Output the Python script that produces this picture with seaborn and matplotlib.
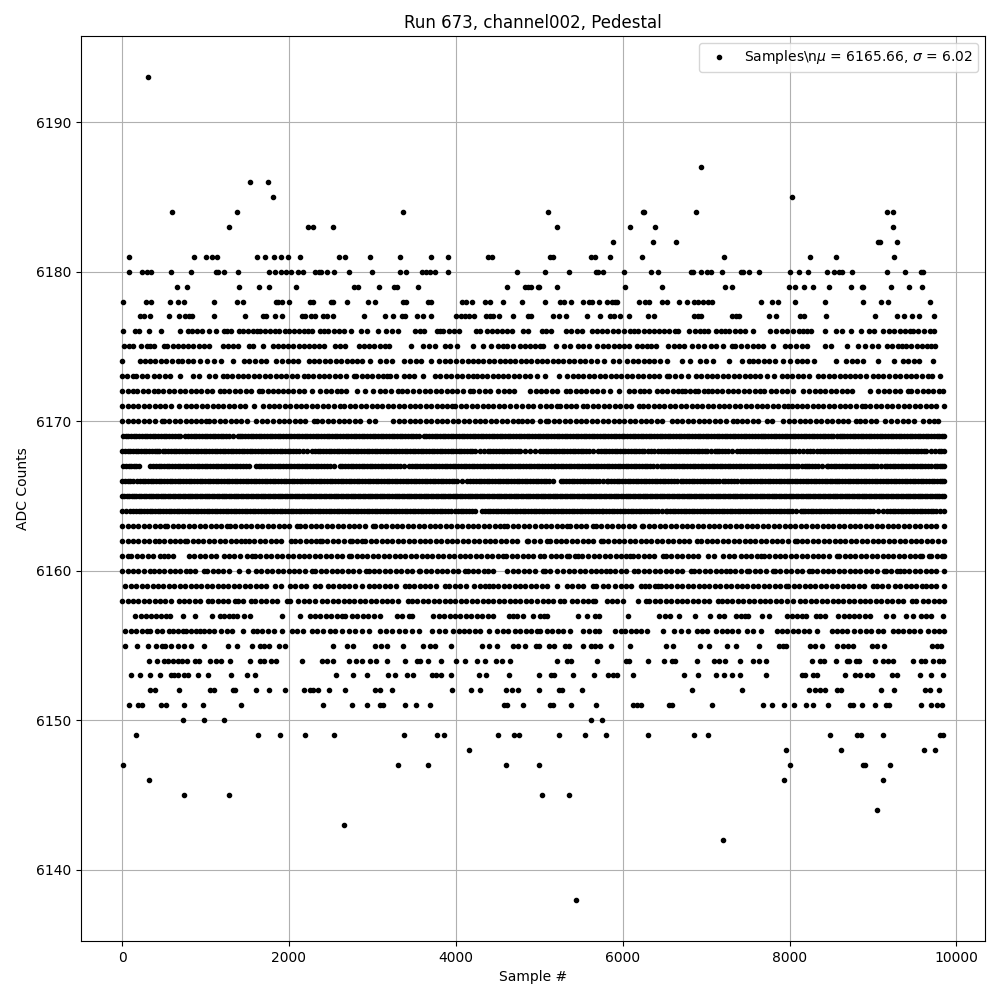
import pandas as pd
import matplotlib
matplotlib.use('Agg')
import matplotlib.pyplot as plt
import seaborn as sns

# sample numbers, one list per ADC level
s6193 = [308]
s6187 = [6942]
s6186 = [1530, 1745]
s6185 = [1805, 8032]
s6184 = [595, 1373, 3361, 5110, 6240, 6260, 6882, 9170, 9242]
s6183 = [1277, 2224, 2287, 2527, 5218, 6092, 6391, 9242]
s6182 = [5888, 6367, 6642, 9062, 9082, 9290]
s6181 = [80, 858, 1002, 1074, 1134, 1613, 1709, 1816, 1900, 1984, 2128, 2603, 2667, 2966, 3325, 3708, 3912, 4391, 4431, 5130, 5162, 5620, 5672, 5852, 6235, 7217, 8247, 8559, 9254]
s6180 = [80, 235, 299, 347, 583, 822, 1122, 1154, 1222, 1385, 1756, 1828, 1900, 1960, 2020, 2104, 2164, 2307, 2355, 2383, 2455, 2535, 2715, 2990, 3325, 3397, 3589, 3637, 3685, 3745, 3912, 4739, 5074, 5361, 5685, 5710, 5768, 6020, 6343, 6427, 6814, 6846, 6938, 7010, 7054, 7194, 7421, 7445, 7517, 7637, 8008, 8112, 8224, 8451, 8535, 8595, 8623, 8750, 9170, 9389, 9581, 9605]
s6179 = [655, 778, 1397, 1637, 1756, 2080, 2775, 2823, 3074, 3254, 3290, 3541, 4619, 4835, 4871, 4907, 4990, 5000, 5218, 6032, 6475, 7229, 7313, 7996, 8068, 8172, 8283, 8475, 8739, 8870, 8882, 9218, 9433, 9589]
s6178 = [8, 283, 343, 571, 667, 739, 1098, 1373, 1445, 1840, 1864, 1916, 1996, 2247, 2283, 2499, 2527, 2691, 2942, 3026, 3361, 3397, 3661, 3708, 4080, 4116, 4188, 4355, 4415, 4571, 4799, 5074, 5254, 5302, 5385, 5529, 5601, 5637, 5721, 5816, 5876, 5908, 5936, 6196, 6271, 6319, 6475, 6535, 6679, 6775, 6858, 6906, 6966, 7026, 7074, 7660, 7792, 7864, 8068, 8427, 8882, 9098, 9182, 9688]
s6177 = [220, 268, 340, 559, 679, 759, 800, 838, 1098, 1469, 1685, 1729, 1828, 1912, 2156, 2190, 2263, 2307, 2403, 2455, 2523, 2894, 3146, 3242, 3353, 3393, 3529, 3601, 3708, 4000, 4060, 4110, 4152, 4212, 4363, 4410, 4451, 4523, 4691, 4871, 4900, 5170, 5242, 5326, 5577, 5733, 5852, 5900, 5968, 6080, 6307, 6379, 6858, 6906, 6942, 7313, 7357, 7397, 7757, 7840, 8128, 8176, 8439, 9026, 9290, 9373, 9469, 9553, 9733]
s6176 = [8, 152, 200, 327, 463, 691, 786, 840, 900, 958, 1038, 1122, 1218, 1262, 1306, 1397, 1455, 1510, 1570, 1620, 1657, 1717, 1775, 1830, 1885, 1950, 2005, 2060, 2120, 2175, 2230, 2275, 2375, 2420, 2463, 2535, 2600, 2655, 2747, 2862, 2934, 3062, 3166, 3234, 3301, 3513, 3565, 3621, 3772, 3810, 3852, 3920, 3982, 4044, 4244, 4292, 4371, 4430, 4490, 4555, 4615, 4671, 4811, 4871, 5038, 5080, 5138, 5321, 5385, 5450, 5511, 5629, 5690, 5750, 5815, 5880, 5945, 6010, 6088, 6130, 6188, 6250, 6315, 6375, 6439, 6500, 6560, 6625, 6667, 6798, 6866, 6925, 6980, 7026, 7118, 7175, 7225, 7277, 7345, 7410, 7470, 7557, 7764, 7836, 7912, 7972, 8045, 8116, 8164, 8210, 8252, 8427, 8559, 8623, 8739, 8858, 8954, 9010, 9122, 9194, 9255, 9320, 9385, 9440, 9481, 9541, 9610, 9680, 9733]
s6175 = [28, 85, 128, 228, 299, 340, 379, 499, 539, 611, 670, 735, 790, 855, 920, 980, 1038, 1210, 1270, 1330, 1385, 1517, 1569, 1685, 1808, 1865, 1925, 1990, 2050, 2115, 2180, 2240, 2300, 2365, 2415, 2555, 2615, 2675, 2834, 2895, 2960, 3025, 3090, 3150, 3205, 3461, 3605, 3675, 3745, 3872, 3932, 4012, 4204, 4324, 4423, 4511, 4565, 4611, 4691, 4770, 4831, 4890, 4950, 5010, 5042, 5202, 5297, 5369, 5469, 5530, 5597, 5689, 5760, 5825, 5890, 5950, 6015, 6080, 6168, 6230, 6290, 6345, 6399, 6547, 6610, 6675, 6740, 6827, 6906, 6974, 7058, 7118, 7205, 7305, 7345, 7413, 7485, 7557, 7620, 7677, 7804, 7944, 8010, 8075, 8145, 8211, 8427, 8499, 8691, 8822, 8902, 8985, 9062, 9162, 9230, 9295, 9350, 9401, 9461, 9525, 9590, 9650, 9700, 9741]
s6174 = [4, 220, 280, 340, 400, 465, 530, 600, 668, 720, 785, 850, 932, 1020, 1105, 1188, 1324, 1460, 1525, 1590, 1660, 1728, 1840, 1920, 1985, 2050, 2108, 2240, 2305, 2365, 2430, 2495, 2560, 2625, 2690, 2750, 2815, 2880, 2972, 3092, 3160, 3240, 3380, 3450, 3520, 3588, 3700, 3800, 3865, 3930, 4000, 4080, 4140, 4200, 4265, 4330, 4395, 4460, 4525, 4585, 4650, 4715, 4780, 4845, 4905, 4968, 5030, 5095, 5160, 5225, 5290, 5355, 5420, 5485, 5550, 5615, 5688, 5776, 5880, 5960, 6056, 6120, 6185, 6250, 6315, 6380, 6450, 6528, 6708, 6808, 6928, 7000, 7080, 7276, 7428, 7508, 7560, 7625, 7690, 7755, 7820, 7920, 8008, 8088, 8150, 8208, 8296, 8552, 8680, 8745, 8810, 8880, 9056, 9248, 9360, 9425, 9490, 9548, 9720]
s6173 = [0, 60, 128, 168, 235, 300, 379, 445, 510, 579, 691, 850, 918, 1038, 1118, 1210, 1257, 1320, 1385, 1450, 1515, 1580, 1645, 1710, 1775, 1840, 1905, 1970, 2035, 2100, 2176, 2224, 2290, 2355, 2420, 2485, 2550, 2615, 2680, 2775, 2806, 2870, 2935, 3000, 3065, 3130, 3174, 3214, 3280, 3373, 3433, 3500, 3605, 3752, 3815, 3880, 3945, 4010, 4075, 4140, 4200, 4252, 4312, 4378, 4440, 4505, 4571, 4631, 4695, 4760, 4825, 4890, 4970, 5068, 5240, 5337, 5400, 5465, 5530, 5595, 5660, 5725, 5790, 5855, 5920, 5985, 6050, 6115, 6180, 6245, 6310, 6375, 6440, 6527, 6559, 6625, 6700, 6787, 6875, 6940, 7005, 7070, 7135, 7200, 7265, 7330, 7395, 7460, 7525, 7585, 7645, 7725, 7817, 7904, 7970, 8035, 8100, 8165, 8230, 8343, 8403, 8470, 8535, 8600, 8665, 8730, 8790, 8843, 8914, 9002, 9060, 9122, 9194, 9260, 9325, 9390, 9455, 9520, 9590, 9660, 9708, 9800]
s6172 = [0, 65, 128, 180, 245, 310, 380, 428, 495, 560, 625, 690, 755, 820, 885, 950, 1015, 1080, 1178, 1218, 1285, 1350, 1415, 1480, 1545, 1637, 1677, 1745, 1810, 1870, 1928, 1984, 2050, 2124, 2184, 2275, 2375, 2440, 2505, 2570, 2623, 2687, 2815, 2915, 3006, 3086, 3155, 3220, 3305, 3353, 3420, 3490, 3553, 3625, 3692, 3760, 3825, 3890, 3955, 4020, 4090, 4164, 4204, 4275, 4344, 4411, 4511, 4575, 4640, 4703, 4890, 4955, 5020, 5085, 5150, 5215, 5321, 5369, 5435, 5500, 5565, 5630, 5695, 5760, 5848, 5960, 6076, 6140, 6205, 6256, 6319, 6407, 6470, 6535, 6600, 6660, 6707, 6746, 6810, 6866, 6906, 6970, 7018, 7066, 7130, 7195, 7260, 7325, 7385, 7450, 7515, 7580, 7640, 7693, 7772, 7840, 7905, 7970, 8044, 8164, 8236, 8300, 8365, 8430, 8495, 8560, 8625, 8690, 8754, 8970, 9062, 9130, 9195, 9260, 9325, 9421, 9461, 9530, 9595, 9660, 9725, 9790, 9840]
s6171 = [0, 65, 130, 195, 260, 325, 390, 455, 520, 585, 680, 760, 825, 890, 955, 1020, 1085, 1150, 1215, 1280, 1345, 1410, 1475, 1585, 1689, 1755, 1820, 1885, 1950, 2015, 2080, 2145, 2210, 2275, 2340, 2405, 2470, 2535, 2607, 2663, 2730, 2795, 2860, 2925, 2990, 3055, 3120, 3185, 3250, 3315, 3380, 3445, 3510, 3575, 3640, 3705, 3770, 3835, 3900, 3952, 3992, 4060, 4125, 4190, 4255, 4320, 4385, 4450, 4515, 4580, 4651, 4723, 4791, 4860, 4925, 5010, 5075, 5140, 5208, 5248, 5315, 5380, 5445, 5521, 5577, 5645, 5710, 5775, 5840, 5905, 5970, 6035, 6100, 6200, 6240, 6305, 6370, 6435, 6500, 6565, 6630, 6695, 6760, 6825, 6890, 6955, 7020, 7085, 7150, 7215, 7280, 7345, 7410, 7475, 7540, 7605, 7670, 7735, 7800, 7865, 7930, 7984, 8024, 8090, 8155, 8204, 8275, 8340, 8405, 8470, 8535, 8600, 8665, 8730, 8795, 8863, 8902, 8970, 9035, 9100, 9165, 9233, 9301, 9369, 9435, 9500, 9565, 9630, 9695, 9760, 9850]
s6170 = [0, 65, 130, 195, 260, 325, 390, 479, 499, 565, 630, 695, 760, 825, 890, 950, 1010, 1038, 1105, 1170, 1235, 1300, 1365, 1430, 1497, 1609, 1675, 1740, 1808, 1876, 1936, 2000, 2070, 2136, 2196, 2295, 2335, 2400, 2465, 2530, 2595, 2660, 2725, 2790, 2855, 2954, 3034, 3253, 3313, 3380, 3445, 3510, 3575, 3640, 3705, 3770, 3835, 3900, 3965, 4030, 4095, 4160, 4225, 4290, 4355, 4420, 4485, 4550, 4615, 4680, 4745, 4791, 4850, 4915, 5010, 5082, 5110, 5175, 5240, 5305, 5370, 5435, 5500, 5565, 5630, 5695, 5760, 5825, 5890, 5955, 6020, 6085, 6150, 6215, 6280, 6345, 6410, 6475, 6587, 6647, 6715, 6780, 6845, 6910, 6975, 7040, 7105, 7170, 7235, 7317, 7365, 7430, 7495, 7560, 7625, 7725, 7784, 7924, 7990, 8055, 8120, 8185, 8250, 8315, 8380, 8445, 8510, 8575, 8640, 8705, 8802, 8842, 8910, 8975, 9040, 9142, 9214, 9290, 9361, 9421, 9490, 9601, 9673, 9730, 9780]
s6169 = [12, 45, 75, 108, 140, 172, 205, 238, 270, 302, 335, 368, 400, 432, 465, 498, 530, 562, 595, 630, 667, 699, 759, 792, 825, 858, 890, 922, 955, 988, 1020, 1052, 1085, 1118, 1150, 1182, 1215, 1248, 1280, 1332, 1385, 1409, 1442, 1475, 1508, 1540, 1572, 1605, 1638, 1670, 1702, 1735, 1768, 1800, 1832, 1865, 1898, 1930, 1962, 1995, 2028, 2060, 2092, 2125, 2158, 2190, 2222, 2255, 2288, 2320, 2352, 2385, 2418, 2450, 2482, 2515, 2548, 2580, 2612, 2645, 2678, 2710, 2742, 2775, 2808, 2840, 2872, 2905, 2938, 2970, 3002, 3035, 3068, 3100, 3132, 3165, 3198, 3230, 3262, 3295, 3328, 3360, 3392, 3425, 3458, 3490, 3522, 3553, 3613, 3646, 3680, 3712, 3745, 3778, 3810, 3842, 3875, 3908, 3940, 3972, 4005, 4038, 4070, 4102, 4135, 4168, 4200, 4232, 4265, 4298, 4330, 4362, 4395, 4428, 4460, 4492, 4525, 4558, 4590, 4622, 4655, 4688, 4720, 4752, 4785, 4818, 4850, 4882, 4915, 4948, 4980, 5012, 5045, 5078, 5110, 5142, 5175, 5208, 5240, 5272, 5305, 5338, 5370, 5402, 5435, 5468, 5500, 5532, 5565, 5598, 5630, 5662, 5695, 5728, 5760, 5792, 5825, 5858, 5890, 5922, 5955, 5988, 6020, 6052, 6085, 6118, 6150, 6182, 6215, 6248, 6280, 6312, 6345, 6378, 6410, 6442, 6475, 6508, 6540, 6572, 6605, 6638, 6670, 6702, 6735, 6768, 6800, 6832, 6865, 6898, 6930, 6962, 6995, 7028, 7060, 7092, 7125, 7158, 7190, 7222, 7255, 7288, 7320, 7352, 7385, 7418, 7450, 7482, 7515, 7548, 7580, 7616, 7653, 7677, 7710, 7745, 7778, 7810, 7842, 7875, 7908, 7940, 7972, 8005, 8038, 8070, 8102, 8135, 8168, 8200, 8232, 8265, 8298, 8330, 8362, 8395, 8428, 8460, 8492, 8525, 8565, 8603, 8623, 8656, 8690, 8722, 8755, 8788, 8820, 8852, 8885, 8918, 8950, 8982, 9015, 9048, 9080, 9112, 9145, 9178, 9210, 9242, 9275, 9308, 9340, 9372, 9405, 9438, 9470, 9502, 9535, 9568, 9600, 9632, 9665, 9698, 9730, 9762, 9795, 9825, 9850]
s6168 = [0, 32, 65, 98, 130, 162, 195, 228, 260, 292, 325, 358, 390, 420, 447, 487, 520, 555, 588, 620, 652, 685, 718, 750, 782, 815, 848, 880, 912, 945, 978, 1010, 1042, 1075, 1108, 1140, 1172, 1205, 1238, 1270, 1302, 1335, 1368, 1400, 1432, 1465, 1498, 1530, 1562, 1595, 1628, 1660, 1692, 1725, 1758, 1790, 1822, 1855, 1888, 1920, 1952, 1985, 2018, 2050, 2082, 2115, 2165, 2216, 2276, 2310, 2345, 2378, 2410, 2442, 2475, 2508, 2540, 2572, 2605, 2638, 2670, 2702, 2735, 2768, 2800, 2832, 2865, 2898, 2930, 2962, 2995, 3028, 3060, 3092, 3125, 3158, 3190, 3222, 3255, 3288, 3320, 3352, 3385, 3418, 3450, 3482, 3515, 3548, 3580, 3612, 3645, 3678, 3710, 3742, 3775, 3808, 3840, 3872, 3905, 3938, 3970, 4002, 4035, 4068, 4100, 4132, 4165, 4198, 4230, 4285, 4340, 4380, 4415, 4450, 4482, 4515, 4548, 4580, 4612, 4645, 4678, 4710, 4742, 4775, 4830, 4890, 4950, 5010, 5042, 5075, 5108, 5140, 5172, 5205, 5238, 5270, 5302, 5335, 5368, 5400, 5432, 5465, 5498, 5530, 5562, 5595, 5650, 5705, 5737, 5770, 5805, 5838, 5870, 5902, 5935, 5968, 6000, 6032, 6065, 6098, 6130, 6162, 6195, 6228, 6260, 6298, 6335, 6379, 6427, 6460, 6495, 6528, 6560, 6592, 6625, 6658, 6690, 6722, 6755, 6788, 6820, 6852, 6885, 6918, 6950, 6982, 7015, 7060, 7106, 7126, 7160, 7195, 7228, 7260, 7312, 7365, 7405, 7440, 7475, 7508, 7540, 7572, 7605, 7638, 7670, 7702, 7735, 7768, 7800, 7832, 7865, 7898, 7930, 7962, 7995, 8028, 8060, 8112, 8164, 8212, 8246, 8280, 8331, 8363, 8395, 8425, 8458, 8491, 8531, 8565, 8600, 8632, 8665, 8698, 8730, 8762, 8795, 8828, 8860, 8892, 8925, 8958, 8990, 9022, 9055, 9088, 9120, 9152, 9185, 9218, 9250, 9282, 9315, 9348, 9380, 9412, 9445, 9478, 9510, 9542, 9575, 9608, 9640, 9690, 9741, 9792, 9820, 9850]
s6167 = [12, 45, 80, 112, 145, 172, 200, 339, 372, 405, 438, 470, 502, 535, 568, 600, 632, 665, 698, 730, 762, 795, 828, 860, 892, 925, 958, 990, 1022, 1055, 1088, 1120, 1152, 1185, 1218, 1250, 1282, 1315, 1348, 1380, 1412, 1445, 1485, 1525, 1605, 1638, 1670, 1702, 1735, 1768, 1800, 1832, 1865, 1898, 1930, 1962, 1995, 2028, 2060, 2092, 2125, 2158, 2190, 2222, 2255, 2288, 2320, 2352, 2385, 2418, 2450, 2492, 2535, 2607, 2640, 2675, 2708, 2740, 2772, 2805, 2838, 2870, 2902, 2935, 2968, 3000, 3032, 3065, 3098, 3130, 3162, 3195, 3228, 3260, 3292, 3325, 3380, 3433, 3473, 3506, 3540, 3572, 3605, 3638, 3670, 3702, 3735, 3768, 3800, 3832, 3865, 3898, 3930, 3962, 3995, 4028, 4060, 4092, 4125, 4158, 4190, 4222, 4255, 4288, 4320, 4352, 4385, 4418, 4450, 4482, 4515, 4548, 4580, 4612, 4645, 4678, 4710, 4742, 4775, 4808, 4840, 4872, 4905, 4938, 4970, 5002, 5035, 5068, 5100, 5138, 5176, 5190, 5222, 5255, 5288, 5320, 5352, 5385, 5418, 5450, 5482, 5515, 5548, 5580, 5612, 5645, 5678, 5710, 5742, 5775, 5808, 5840, 5872, 5905, 5938, 5970, 6002, 6035, 6068, 6100, 6132, 6165, 6198, 6230, 6262, 6295, 6328, 6360, 6408, 6455, 6479, 6512, 6545, 6578, 6610, 6642, 6675, 6708, 6740, 6772, 6805, 6838, 6870, 6902, 6935, 6968, 7000, 7032, 7065, 7098, 7130, 7162, 7195, 7228, 7260, 7292, 7325, 7358, 7390, 7422, 7455, 7488, 7520, 7552, 7585, 7618, 7650, 7682, 7715, 7748, 7780, 7812, 7845, 7878, 7910, 7942, 7975, 8008, 8040, 8072, 8105, 8145, 8184, 8204, 8236, 8270, 8302, 8335, 8390, 8443, 8463, 8496, 8530, 8562, 8595, 8628, 8660, 8692, 8725, 8758, 8790, 8822, 8855, 8888, 8920, 8952, 8985, 9018, 9050, 9098, 9142, 9170, 9202, 9235, 9268, 9300, 9332, 9365, 9398, 9430, 9462, 9495, 9528, 9560, 9592, 9625, 9662, 9701, 9741, 9772, 9805, 9830, 9850]
s6166 = [0, 32, 65, 100, 132, 180, 212, 245, 278, 310, 342, 375, 408, 440, 472, 505, 538, 570, 602, 635, 668, 700, 732, 765, 798, 830, 862, 895, 928, 960, 992, 1025, 1058, 1090, 1122, 1155, 1188, 1220, 1252, 1285, 1318, 1350, 1382, 1415, 1448, 1480, 1512, 1545, 1578, 1610, 1642, 1675, 1708, 1740, 1772, 1805, 1838, 1870, 1902, 1935, 1968, 2000, 2032, 2065, 2098, 2130, 2162, 2195, 2228, 2260, 2292, 2325, 2358, 2390, 2422, 2455, 2488, 2520, 2552, 2585, 2618, 2650, 2682, 2715, 2748, 2780, 2812, 2845, 2878, 2910, 2942, 2975, 3008, 3040, 3072, 3105, 3138, 3170, 3202, 3235, 3268, 3300, 3332, 3365, 3398, 3430, 3462, 3495, 3528, 3560, 3592, 3625, 3658, 3690, 3722, 3755, 3788, 3820, 3852, 3885, 3918, 3950, 3982, 4015, 4072, 4132, 4172, 4205, 4240, 4272, 4305, 4338, 4370, 4402, 4435, 4468, 4500, 4532, 4565, 4598, 4630, 4662, 4695, 4728, 4760, 4792, 4825, 4858, 4890, 4922, 4955, 4988, 5020, 5052, 5085, 5120, 5160, 5257, 5290, 5325, 5358, 5390, 5422, 5455, 5488, 5520, 5552, 5585, 5618, 5650, 5682, 5715, 5760, 5808, 5828, 5862, 5895, 5928, 5960, 5992, 6025, 6058, 6090, 6122, 6155, 6188, 6220, 6252, 6285, 6318, 6350, 6382, 6415, 6448, 6480, 6512, 6545, 6578, 6610, 6650, 6695, 6727, 6760, 6795, 6828, 6860, 6892, 6925, 6958, 6990, 7022, 7055, 7088, 7120, 7158, 7198, 7232, 7265, 7298, 7330, 7370, 7413, 7445, 7478, 7510, 7542, 7575, 7608, 7640, 7672, 7705, 7738, 7770, 7802, 7835, 7868, 7900, 7932, 7965, 7998, 8030, 8062, 8095, 8128, 8160, 8192, 8225, 8258, 8290, 8322, 8355, 8388, 8420, 8450, 8480, 8512, 8543, 8563, 8596, 8630, 8662, 8695, 8728, 8760, 8792, 8825, 8858, 8890, 8922, 8955, 8988, 9020, 9052, 9085, 9118, 9150, 9182, 9215, 9248, 9280, 9312, 9345, 9378, 9410, 9442, 9475, 9508, 9540, 9572, 9605, 9638, 9670, 9702, 9735, 9768, 9800, 9825, 9850]
s6165 = [0, 28, 55, 85, 115, 142, 170, 200, 230, 260, 290, 318, 345, 375, 405, 435, 465, 492, 520, 550, 580, 610, 640, 668, 695, 725, 755, 785, 815, 842, 870, 900, 930, 960, 990, 1018, 1045, 1075, 1105, 1135, 1165, 1192, 1220, 1250, 1280, 1310, 1340, 1368, 1395, 1425, 1455, 1485, 1515, 1542, 1570, 1600, 1630, 1660, 1690, 1718, 1745, 1775, 1805, 1835, 1865, 1892, 1920, 1950, 1980, 2010, 2040, 2068, 2095, 2125, 2155, 2185, 2215, 2242, 2270, 2300, 2330, 2360, 2390, 2418, 2445, 2475, 2505, 2535, 2565, 2592, 2620, 2650, 2680, 2710, 2740, 2768, 2795, 2825, 2855, 2885, 2915, 2942, 2970, 3000, 3030, 3060, 3090, 3118, 3145, 3175, 3205, 3235, 3265, 3292, 3320, 3350, 3380, 3410, 3440, 3468, 3495, 3525, 3555, 3585, 3615, 3642, 3670, 3700, 3730, 3760, 3790, 3818, 3845, 3875, 3905, 3935, 3965, 3992, 4020, 4050, 4080, 4110, 4140, 4168, 4195, 4225, 4255, 4285, 4315, 4342, 4370, 4400, 4430, 4460, 4490, 4518, 4545, 4575, 4605, 4635, 4665, 4692, 4720, 4750, 4780, 4810, 4840, 4868, 4895, 4925, 4955, 4985, 5015, 5042, 5070, 5100, 5130, 5160, 5190, 5218, 5245, 5275, 5305, 5335, 5365, 5392, 5420, 5450, 5480, 5510, 5540, 5568, 5595, 5625, 5655, 5685, 5715, 5742, 5770, 5800, 5830, 5860, 5890, 5918, 5945, 5975, 6005, 6035, 6065, 6092, 6120, 6150, 6180, 6210, 6240, 6268, 6295, 6325, 6355, 6385, 6415, 6442, 6470, 6500, 6530, 6560, 6590, 6618, 6645, 6675, 6705, 6735, 6765, 6792, 6820, 6850, 6880, 6910, 6940, 6968, 6995, 7025, 7055, 7085, 7115, 7142, 7170, 7200, 7230, 7260, 7290, 7318, 7345, 7375, 7405, 7435, 7465, 7492, 7520, 7550, 7580, 7610, 7640, 7668, 7695, 7725, 7755, 7785, 7815, 7842, 7870, 7900, 7930, 7960, 7990, 8018, 8045, 8075, 8105, 8135, 8165, 8192, 8220, 8250, 8280, 8310, 8340, 8368, 8395, 8425, 8455, 8485, 8515, 8542, 8570, 8600, 8630, 8660, 8690, 8718, 8745, 8775, 8805, 8835, 8865, 8892, 8920, 8950, 8980, 9010, 9040, 9068, 9095, 9125, 9155, 9185, 9215, 9242, 9270, 9300, 9330, 9360, 9390, 9418, 9445, 9475, 9505, 9535, 9565, 9592, 9620, 9650, 9680, 9710, 9740, 9768, 9795, 9825, 9850]
s6164 = [0, 45, 92, 132, 165, 200, 232, 265, 298, 330, 362, 395, 428, 460, 492, 525, 558, 590, 622, 655, 688, 720, 752, 785, 818, 850, 882, 915, 948, 980, 1012, 1045, 1078, 1110, 1142, 1175, 1208, 1240, 1272, 1305, 1338, 1370, 1402, 1435, 1468, 1500, 1532, 1565, 1598, 1630, 1662, 1695, 1728, 1760, 1792, 1825, 1858, 1890, 1922, 1955, 1988, 2020, 2052, 2085, 2118, 2150, 2182, 2215, 2248, 2280, 2312, 2345, 2378, 2410, 2442, 2475, 2508, 2540, 2572, 2605, 2638, 2670, 2702, 2735, 2768, 2800, 2832, 2865, 2898, 2930, 2962, 2995, 3028, 3060, 3092, 3125, 3158, 3190, 3222, 3255, 3288, 3320, 3352, 3385, 3418, 3450, 3482, 3515, 3548, 3580, 3612, 3645, 3678, 3710, 3742, 3775, 3808, 3840, 3872, 3905, 3948, 3992, 4024, 4058, 4090, 4122, 4155, 4195, 4232, 4312, 4345, 4380, 4412, 4445, 4478, 4510, 4542, 4575, 4608, 4640, 4672, 4705, 4738, 4770, 4802, 4835, 4868, 4900, 4932, 4965, 4998, 5030, 5062, 5095, 5128, 5160, 5192, 5225, 5258, 5290, 5322, 5355, 5388, 5420, 5452, 5485, 5518, 5550, 5582, 5615, 5648, 5680, 5715, 5749, 5769, 5802, 5835, 5868, 5900, 5932, 5965, 5998, 6030, 6062, 6095, 6128, 6160, 6192, 6225, 6258, 6290, 6322, 6355, 6388, 6420, 6470, 6519, 6535, 6568, 6600, 6632, 6665, 6698, 6730, 6762, 6795, 6828, 6860, 6892, 6925, 6958, 6990, 7022, 7055, 7088, 7120, 7152, 7185, 7218, 7250, 7282, 7315, 7348, 7380, 7412, 7445, 7478, 7510, 7542, 7575, 7608, 7640, 7672, 7705, 7738, 7770, 7802, 7835, 7868, 7900, 7932, 7965, 7998, 8030, 8082, 8132, 8156, 8188, 8220, 8252, 8285, 8318, 8350, 8382, 8415, 8448, 8480, 8512, 8545, 8578, 8610, 8642, 8675, 8708, 8740, 8772, 8805, 8838, 8870, 8902, 8935, 8968, 9000, 9058, 9114, 9170, 9202, 9235, 9268, 9300, 9332, 9365, 9398, 9430, 9462, 9495, 9528, 9560, 9592, 9625, 9658, 9690, 9722, 9755, 9800, 9850]
s6163 = [0, 65, 130, 195, 260, 325, 390, 455, 519, 539, 605, 670, 735, 800, 865, 930, 995, 1060, 1125, 1190, 1257, 1289, 1355, 1420, 1485, 1550, 1615, 1680, 1745, 1810, 1875, 1940, 2005, 2096, 2128, 2195, 2260, 2325, 2390, 2455, 2520, 2585, 2650, 2715, 2780, 2845, 2910, 3006, 3034, 3100, 3165, 3230, 3295, 3360, 3425, 3490, 3555, 3620, 3685, 3750, 3815, 3880, 3945, 4010, 4075, 4140, 4205, 4270, 4335, 4400, 4465, 4530, 4583, 4619, 4685, 4750, 4815, 4880, 4948, 5015, 5080, 5145, 5210, 5275, 5337, 5369, 5435, 5500, 5565, 5649, 5677, 5745, 5810, 5875, 5940, 6005, 6070, 6135, 6228, 6248, 6315, 6380, 6445, 6510, 6575, 6640, 6705, 6770, 6835, 6900, 6965, 7030, 7095, 7160, 7225, 7290, 7355, 7420, 7485, 7550, 7615, 7680, 7745, 7810, 7875, 7940, 8005, 8070, 8135, 8200, 8265, 8330, 8395, 8460, 8525, 8590, 8655, 8720, 8785, 8850, 8915, 8980, 9045, 9110, 9175, 9240, 9305, 9370, 9435, 9500, 9565, 9630, 9695, 9760, 9850]
s6162 = [0, 65, 130, 195, 260, 325, 399, 439, 505, 570, 635, 700, 759, 779, 845, 910, 975, 1040, 1105, 1170, 1235, 1300, 1365, 1430, 1477, 1517, 1585, 1650, 1715, 1780, 1845, 1910, 2024, 2068, 2135, 2200, 2265, 2330, 2375, 2395, 2460, 2525, 2590, 2655, 2735, 2755, 2820, 2874, 2914, 2980, 3045, 3110, 3175, 3240, 3305, 3370, 3435, 3500, 3565, 3630, 3695, 3760, 3825, 3890, 3955, 4020, 4085, 4150, 4215, 4280, 4345, 4410, 4475, 4540, 4605, 4670, 4735, 4850, 4870, 4940, 5010, 5090, 5130, 5195, 5260, 5325, 5390, 5455, 5520, 5585, 5650, 5741, 5761, 5825, 5890, 5955, 6020, 6085, 6150, 6215, 6280, 6345, 6410, 6475, 6540, 6605, 6670, 6735, 6800, 6886, 6938, 7005, 7070, 7135, 7200, 7265, 7330, 7395, 7460, 7525, 7590, 7655, 7720, 7785, 7850, 7915, 7980, 8064, 8084, 8150, 8215, 8280, 8345, 8410, 8475, 8540, 8605, 8670, 8735, 8800, 8865, 8930, 8995, 9060, 9125, 9190, 9255, 9320, 9385, 9450, 9515, 9580, 9645, 9710, 9775, 9850]
s6161 = [0, 68, 108, 175, 240, 305, 370, 459, 499, 555, 611, 798, 865, 930, 995, 1060, 1125, 1218, 1277, 1345, 1410, 1497, 1557, 1597, 1657, 1725, 1790, 1855, 1920, 1985, 2050, 2115, 2180, 2245, 2310, 2375, 2440, 2505, 2570, 2635, 2715, 2743, 2810, 2875, 2940, 3005, 3070, 3135, 3200, 3265, 3330, 3395, 3460, 3525, 3590, 3655, 3720, 3785, 3850, 3915, 3980, 4045, 4110, 4175, 4240, 4305, 4370, 4435, 4500, 4571, 4603, 4670, 4735, 4800, 4865, 4930, 5010, 5062, 5138, 5200, 5265, 5329, 5361, 5425, 5469, 5517, 5589, 5655, 5720, 5785, 5850, 5915, 5980, 6045, 6088, 6120, 6185, 6250, 6315, 6380, 6487, 6519, 6585, 6650, 6715, 6780, 6845, 6906, 7026, 7090, 7198, 7277, 7340, 7413, 7477, 7540, 7605, 7653, 7693, 7755, 7824, 7884, 7950, 8015, 8080, 8145, 8210, 8275, 8340, 8405, 8470, 8563, 8595, 8660, 8725, 8790, 8855, 8920, 8985, 9050, 9115, 9180, 9245, 9310, 9375, 9440, 9505, 9561, 9593, 9673, 9701, 9765, 9830, 9850]
s6160 = [0, 65, 130, 195, 260, 331, 379, 439, 505, 570, 635, 700, 770, 810, 875, 978, 1018, 1085, 1150, 1215, 1277, 1397, 1505, 1605, 1670, 1735, 1800, 1865, 1930, 2004, 2056, 2125, 2190, 2275, 2315, 2380, 2445, 2510, 2575, 2640, 2705, 2770, 2835, 2926, 2954, 3020, 3085, 3150, 3215, 3280, 3345, 3410, 3475, 3553, 3573, 3640, 3705, 3770, 3835, 3900, 3965, 4030, 4112, 4140, 4205, 4270, 4335, 4391, 4443, 4619, 4685, 4750, 4815, 4880, 4945, 5042, 5070, 5130, 5218, 5289, 5355, 5420, 5485, 5550, 5615, 5680, 5745, 5800, 5848, 5908, 5975, 6040, 6136, 6188, 6255, 6320, 6385, 6450, 6515, 6580, 6645, 6710, 6815, 6854, 6920, 6985, 7050, 7115, 7180, 7237, 7285, 7350, 7415, 7485, 7517, 7585, 7650, 7715, 7796, 7824, 7890, 7955, 8020, 8085, 8150, 8235, 8263, 8330, 8395, 8460, 8525, 8590, 8655, 8720, 8785, 8850, 8915, 8980, 9045, 9130, 9154, 9220, 9285, 9329, 9369, 9435, 9500, 9565, 9630, 9695, 9760, 9850]
s6159 = [40, 105, 170, 235, 300, 365, 430, 495, 560, 627, 691, 755, 820, 885, 950, 1015, 1080, 1145, 1210, 1275, 1340, 1405, 1470, 1535, 1600, 1665, 1730, 1836, 1908, 2008, 2075, 2140, 2205, 2315, 2375, 2463, 2527, 2595, 2660, 2725, 2790, 2874, 2954, 3020, 3085, 3150, 3215, 3280, 3393, 3433, 3500, 3565, 3630, 3695, 3760, 3872, 3924, 3990, 4055, 4120, 4212, 4284, 4345, 4403, 4443, 4510, 4575, 4640, 4705, 4770, 4835, 4900, 4965, 5030, 5095, 5210, 5329, 5395, 5460, 5525, 5641, 5677, 5768, 5828, 5908, 5975, 6040, 6105, 6216, 6267, 6319, 6385, 6427, 6455, 6520, 6585, 6650, 6715, 6780, 6845, 6910, 6975, 7040, 7105, 7170, 7235, 7300, 7365, 7430, 7495, 7560, 7625, 7690, 7755, 7820, 7885, 7956, 7984, 8050, 8115, 8180, 8245, 8310, 8375, 8440, 8505, 8570, 8635, 8700, 8765, 8830, 8895, 9002, 9050, 9110, 9182, 9262, 9325, 9390, 9455, 9520, 9585, 9633, 9693, 9760, 9850]
s6158 = [0, 65, 130, 195, 260, 325, 390, 455, 520, 585, 687, 739, 805, 870, 935, 1026, 1078, 1145, 1210, 1275, 1357, 1385, 1450, 1545, 1597, 1665, 1730, 1795, 1860, 1976, 2008, 2104, 2176, 2245, 2310, 2395, 2455, 2523, 2590, 2655, 2720, 2785, 2850, 2915, 2980, 3045, 3110, 3175, 3240, 3305, 3421, 3473, 3540, 3605, 3670, 3735, 3800, 3865, 3930, 3995, 4060, 4125, 4190, 4255, 4320, 4385, 4450, 4515, 4580, 4645, 4710, 4775, 4840, 4905, 4970, 5040, 5105, 5170, 5249, 5301, 5389, 5455, 5520, 5585, 5649, 5669, 5808, 5870, 5936, 6008, 6188, 6276, 6319, 6385, 6450, 6515, 6580, 6645, 6710, 6775, 6840, 6905, 6970, 7035, 7146, 7186, 7250, 7315, 7380, 7445, 7510, 7575, 7640, 7705, 7770, 7835, 7900, 7972, 8044, 8124, 8190, 8255, 8320, 8385, 8450, 8515, 8580, 8645, 8710, 8775, 8840, 8905, 8970, 9035, 9100, 9165, 9230, 9295, 9360, 9473, 9521, 9601, 9665, 9730, 9795, 9850]
s6157 = [152, 228, 290, 350, 410, 470, 530, 579, 731, 870, 1078, 1170, 1225, 1280, 1330, 1377, 1457, 1537, 1916, 2128, 2248, 2310, 2375, 2440, 2505, 2570, 2635, 2675, 2755, 2820, 2885, 2950, 3022, 3086, 3293, 3353, 3433, 3473, 3732, 3795, 3860, 3925, 3990, 4055, 4120, 4185, 4250, 4315, 4391, 4451, 4643, 4690, 4731, 4811, 4930, 5010, 5055, 5098, 5461, 5569, 5669, 5721, 6068, 6439, 6505, 6567, 6679, 6870, 7050, 7154, 7214, 7357, 7420, 7465, 7505, 7673, 7757, 7964, 8030, 8090, 8144, 8199, 8315, 8370, 8423, 8583, 8650, 8710, 8770, 8835, 8900, 8962, 9158, 9242, 9393, 9481, 9581, 9640, 9701, 9840]
s6156 = [40, 105, 170, 235, 299, 339, 419, 479, 559, 611, 675, 731, 767, 826, 885, 938, 978, 1040, 1098, 1186, 1255, 1318, 1449, 1569, 1617, 1677, 1749, 1816, 1920, 2036, 2100, 2164, 2276, 2340, 2405, 2495, 2547, 2635, 2715, 2795, 2874, 2954, 3086, 3160, 3234, 3321, 3393, 3470, 3553, 3712, 3804, 3876, 3972, 4044, 4092, 4160, 4225, 4292, 4403, 4491, 4571, 4631, 4711, 4775, 4840, 4905, 4970, 5010, 5090, 5155, 5220, 5281, 5373, 5529, 5600, 5669, 5721, 5908, 5975, 6028, 6096, 6160, 6225, 6287, 6487, 6615, 6695, 6786, 6886, 6950, 7015, 7118, 7186, 7250, 7315, 7380, 7485, 7565, 7653, 7844, 7910, 7975, 8040, 8105, 8170, 8235, 8323, 8511, 8571, 8630, 8691, 8774, 8850, 8915, 8982, 9062, 9122, 9234, 9300, 9365, 9430, 9495, 9560, 9661, 9733, 9795, 9850]
s6155 = [32, 180, 307, 411, 479, 519, 583, 667, 739, 826, 978, 1265, 1373, 1557, 1657, 1705, 1757, 1876, 1956, 2523, 2695, 2763, 3034, 3100, 3174, 3361, 3601, 3693, 3753, 3948, 4311, 4403, 4499, 4691, 4750, 4831, 4960, 4996, 5120, 5176, 5309, 5361, 5529, 5621, 5669, 5733, 5864, 6092, 6523, 6607, 6930, 7038, 7253, 7357, 7637, 7876, 7920, 7956, 8244, 8300, 8383, 8571, 8643, 8700, 8755, 8994, 9050, 9134, 9713, 9770, 9820]
s6154 = [319, 415, 499, 555, 611, 667, 719, 775, 878, 918, 1058, 1120, 1186, 1289, 1529, 1649, 1697, 1788, 1848, 2152, 2395, 2460, 2527, 2715, 2806, 2870, 2966, 3038, 3170, 3385, 3533, 3573, 3669, 3828, 4008, 4104, 4252, 4352, 4483, 4551, 4651, 5218, 5329, 5377, 5697, 6036, 6080, 6307, 6499, 6587, 6627, 6890, 7098, 7160, 7225, 7409, 7565, 7637, 7721, 8271, 8363, 8411, 8559, 8683, 8715, 8802, 8830, 9030, 9114, 9178, 9234, 9481, 9581, 9621, 9721, 9790, 9840]
s6153 = [104, 212, 331, 451, 587, 625, 667, 747, 790, 906, 1026, 1301, 1493, 1589, 2559, 2763, 2930, 3182, 3273, 3409, 3481, 3713, 3765, 3828, 3948, 4272, 4367, 4643, 5002, 5138, 5178, 5409, 5661, 5828, 5880, 5936, 6128, 6739, 6906, 7122, 7217, 7313, 7409, 7721, 8144, 8188, 8275, 8323, 8667, 8782, 8842, 8930, 8990, 9230, 9290, 9565, 9697, 9840]
s6152 = [339, 391, 679, 1058, 1106, 1325, 1357, 1601, 1757, 1948, 2184, 2248, 2284, 2343, 2475, 2667, 3034, 3094, 3230, 3960, 4176, 4284, 4603, 4671, 4751, 5002, 5238, 5270, 5517, 6834, 7433, 8235, 8307, 8363, 8419, 8563, 8611, 9098, 9254, 9629, 9681, 9792]
s6151 = [80, 192, 240, 463, 527, 739, 966, 1421, 2403, 2751, 2930, 3094, 3126, 3385, 3517, 3685, 4579, 4619, 4811, 5130, 5162, 5385, 5685, 6128, 6176, 6224, 6555, 6591, 7074, 7685, 7792, 7936, 8056, 8200, 8284, 8463, 8723, 8763, 8870, 9026, 9154, 9194, 9581, 9697, 9769, 9833]
s6150 = [731, 978, 1218, 5625, 5756]
s6149 = [164, 1625, 1888, 2188, 2535, 3373, 3769, 3864, 4511, 4695, 4763, 5241, 5553, 5804, 6307, 6858, 7026, 8487, 8810, 8854, 9122, 9808, 9840]
s6148 = [4152, 7960, 8619, 9613, 9745]
s6147 = [8, 3301, 3661, 4607, 5002, 8008, 8886, 8900, 9206]
s6146 = [319, 7936, 9122]
s6145 = [739, 1277, 5038, 5361]
s6144 = [9050]
s6143 = [2663]
s6142 = [7205]
s6138 = [5445]

levels = {6193: s6193, 6187: s6187, 6186: s6186, 6185: s6185, 6184: s6184, 6183: s6183, 6182: s6182,
          6181: s6181, 6180: s6180, 6179: s6179, 6178: s6178, 6177: s6177, 6176: s6176, 6175: s6175,
          6174: s6174, 6173: s6173, 6172: s6172, 6171: s6171, 6170: s6170, 6169: s6169, 6168: s6168,
          6167: s6167, 6166: s6166, 6165: s6165, 6164: s6164, 6163: s6163, 6162: s6162, 6161: s6161,
          6160: s6160, 6159: s6159, 6158: s6158, 6157: s6157, 6156: s6156, 6155: s6155, 6154: s6154,
          6153: s6153, 6152: s6152, 6151: s6151, 6150: s6150, 6149: s6149, 6148: s6148, 6147: s6147,
          6146: s6146, 6145: s6145, 6144: s6144, 6143: s6143, 6142: s6142, 6138: s6138}

rows = [(x, adc) for adc, xs in levels.items() for x in xs]
df = pd.DataFrame(rows, columns=['sample', 'adc'])

fig, ax = plt.subplots(figsize=(10, 10), dpi=100)
sns.lineplot(data=df, x='sample', y='adc', estimator=None, sort=False, color='k', linestyle='',
             marker='.', markersize=6, markeredgecolor='k', markeredgewidth=1,
             label=r'Samples\n$\mu$ = 6165.66, $\sigma$ = 6.02', ax=ax)
ax.set_title('Run 673, channel002, Pedestal')
ax.set_xlabel('Sample #')
ax.set_ylabel('ADC Counts')
ax.grid(True)
ax.legend(loc='upper right')
ax.ticklabel_format(useOffset=False, style='plain', axis='y')
fig.subplots_adjust(left=0.081, right=0.985, top=0.964, bottom=0.059)
plt.savefig('out.png', dpi=100)
